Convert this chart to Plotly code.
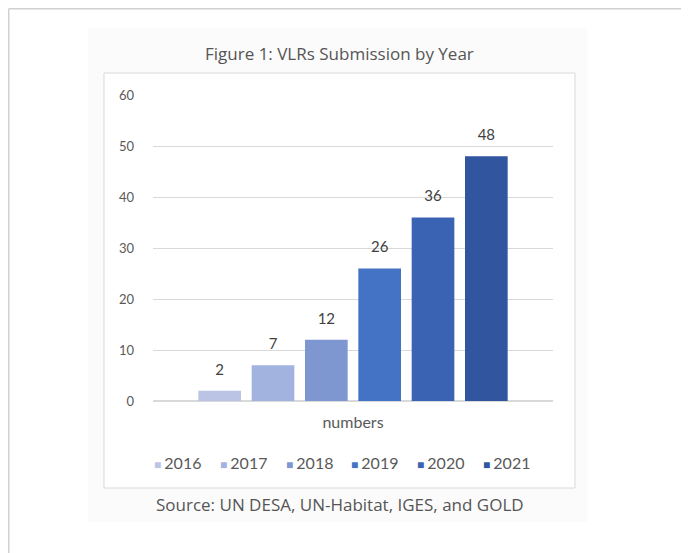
import plotly.graph_objects as go

# data
years = ["2016", "2017", "2018", "2019", "2020", "2021"]
counts = [2, 7, 12, 26, 36, 48]
colors = ["#bcc4e6", "#a3b3df", "#7f97d1", "#4472c4", "#3b63b4", "#31559e"]
category = ["numbers"]
y_ticks = [0, 10, 20, 30, 40, 50, 60]

W, H = 689, 553
OFF = 8  # the page body adds an 8px margin around the plot div
L, T, PW, PH = 153 - OFF, 95 - OFF, 400, 306
R, B = W - L - PW, H - T - PH


def px(x):
    # reference screen x -> paper fraction
    return (x - OFF - L) / PW


def py(y):
    # reference screen y -> paper fraction
    return (T + PH - (y - OFF)) / PH


fig = go.Figure()
for yr, n, c in zip(years, counts, colors):
    fig.add_trace(
        go.Bar(
            x=category,
            y=[n],
            name=yr,
            offsetgroup=yr,
            marker=dict(color=c, line=dict(width=0)),
            showlegend=False,
            hoverinfo="skip",
        )
    )
# value labels, sitting a little above each bar
for yr, n in zip(years, counts):
    fig.add_trace(
        go.Scatter(
            x=category,
            y=[n],
            offsetgroup=yr,
            mode="markers+text",
            marker=dict(size=18, opacity=0),
            text=[str(n)],
            textposition="top center",
            textfont=dict(size=15, color="#404040", family="Lato, sans-serif"),
            showlegend=False,
            hoverinfo="skip",
            cliponaxis=False,
        )
    )

# page frame, light panel and chart box
shapes = [
    dict(type="rect", xref="paper", yref="paper", x0=px(88), x1=px(587), y0=py(522), y1=py(28),
         fillcolor="#fbfbfb", line=dict(width=0), layer="below"),
    dict(type="rect", xref="paper", yref="paper", x0=px(104), x1=px(575), y0=py(488), y1=py(73),
         fillcolor="white", line=dict(color="#d9d9d9", width=1), layer="below"),
    dict(type="line", xref="paper", yref="paper", x0=px(8.7), x1=px(8.7), y0=py(560), y1=py(8.7),
         line=dict(color="#d0d0d0", width=1.5)),
    dict(type="line", xref="paper", yref="paper", x0=px(8.7), x1=px(700), y0=py(8.7), y1=py(8.7),
         line=dict(color="#d0d0d0", width=1.5)),
]

# legend drawn as a row of swatch + label entries
annotations = [
    dict(text="Figure 1: VLRs Submission by Year", xref="paper", yref="paper",
         x=px(339), y=py(53), xanchor="center", yanchor="middle", showarrow=False,
         font=dict(size=17, color="#555555", family="Open Sans, sans-serif")),
    dict(text="Source: UN DESA, UN-Habitat, IGES, and GOLD", xref="paper", yref="paper",
         x=px(340), y=py(504), xanchor="center", yanchor="middle", showarrow=False,
         font=dict(size=17, color="#555555", family="Open Sans, sans-serif")),
]
for i, (yr, c) in enumerate(zip(years, colors)):
    annotations.append(
        dict(text=f"<span style='color:{c};font-size:12px'>■ </span>{yr}",
             xref="paper", yref="paper", x=px(152 + i * 65.8), y=py(462),
             xanchor="left", yanchor="middle", showarrow=False,
             font=dict(size=16, color="#595959", family="Lato, sans-serif"))
    )

fig.update_layout(
    width=W,
    height=H,
    margin=dict(l=L, r=R, t=T, b=B, pad=0),
    paper_bgcolor="white",
    plot_bgcolor="rgba(0,0,0,0)",
    barmode="group",
    bargap=0.2,
    bargroupgap=0.2,
    scattermode="group",
    scattergap=0.2,
    shapes=shapes,
    annotations=annotations,
    showlegend=False,
    font=dict(family="Lato, sans-serif"),
)

fig.update_xaxes(
    showgrid=False,
    showline=False,
    tickfont=dict(size=16, color="#595959"),
    ticklabelstandoff=10,
)
fig.update_yaxes(
    range=[0, 60],
    tickvals=y_ticks,
    showgrid=True,
    gridcolor="#d9d9d9",
    gridwidth=1,
    zeroline=True,
    zerolinecolor="#d9d9d9",
    showline=False,
    tickfont=dict(size=13, color="#595959"),
    ticklabelstandoff=18,
)

fig.write_html("out.html")
